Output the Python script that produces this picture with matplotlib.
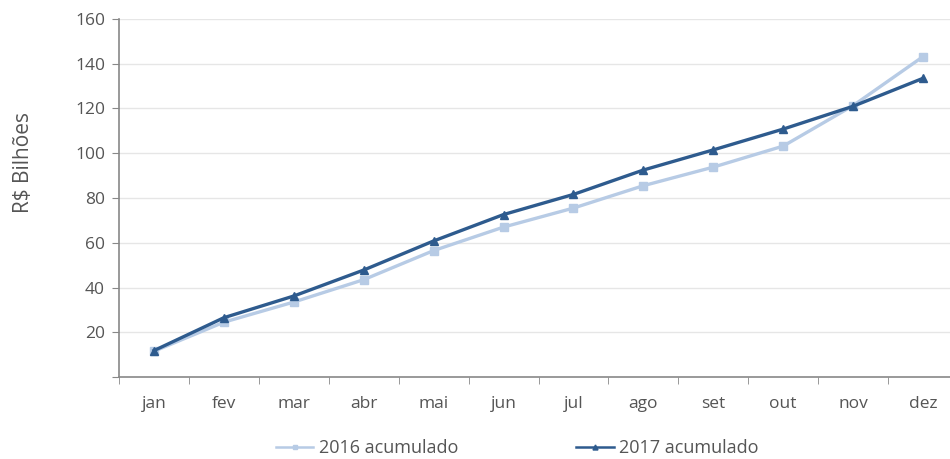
import matplotlib.pyplot as plt
import numpy as np

# ---- data ----
MESES = ['jan', 'fev', 'mar', 'abr', 'mai', 'jun', 'jul', 'ago', 'set', 'out', 'nov', 'dez']
acum_2016 = [11.5, 24.5, 33.5, 43.5, 56.5, 67.0, 75.5, 85.5, 93.8, 103.2, 121.3, 143.2]
acum_2017 = [11.8, 26.5, 36.2, 47.8, 60.8, 72.6, 81.6, 92.5, 101.5, 110.8, 121.0, 133.5]
Y_TICKS = [0, 20, 40, 60, 80, 100, 120, 140, 160]

C_2016 = '#b7cbe5'
C_2017 = '#2e5b8e'
TXT = '#555555'

plt.rcParams['font.family'] = ['Open Sans', 'DejaVu Sans']

fig = plt.figure(figsize=(9.5, 4.59), dpi=100)
ax = fig.add_axes([119 / 950, 1 - 377 / 459, 839 / 950, 358 / 459])

x = np.arange(len(MESES))
ax.plot(x, acum_2016, color=C_2016, lw=2.4, marker='s', ms=5.5, label='2016 acumulado')
ax.plot(x, acum_2017, color=C_2017, lw=2.4, marker='^', ms=6, label='2017 acumulado')

ax.set_xlim(-0.5, 11.5)
ax.set_ylim(0, 160)
ax.set_xticks(x)
ax.set_xticklabels(MESES)
ax.set_xticks(np.arange(-0.5, 12, 1), minor=True)
ax.tick_params(axis='x', which='major', length=0, pad=14, labelsize=12.5, labelcolor=TXT)
ax.tick_params(axis='x', which='minor', length=5, color='#888888', direction='out')
ax.set_yticks(Y_TICKS)
ax.set_yticklabels(['' if v == 0 else str(v) for v in Y_TICKS])
ax.tick_params(axis='y', length=5, color='#888888', labelsize=12.5, labelcolor=TXT, pad=5)

ax.grid(axis='y', color='#e6e6e6', lw=1)
ax.set_axisbelow(True)
for s in ['top', 'right']:
    ax.spines[s].set_visible(False)
for s in ['left', 'bottom']:
    ax.spines[s].set_color('#888888')
    ax.spines[s].set_linewidth(1.2)

fig.text(24 / 950, 1 - 162 / 459, 'R$ Bilhões', rotation=90, ha='center', va='center',
         fontsize=15, color=TXT)

leg = fig.legend(loc='center', bbox_to_anchor=(517 / 950, 1 - 448 / 459), ncol=2, frameon=False,
                 fontsize=13, labelcolor=TXT, columnspacing=6.5, handlelength=2.1,
                 handletextpad=0.3, markerscale=0.6)
for h in leg.legend_handles:
    h.set_linewidth(1.8)

fig.savefig('out.png', dpi=100)
